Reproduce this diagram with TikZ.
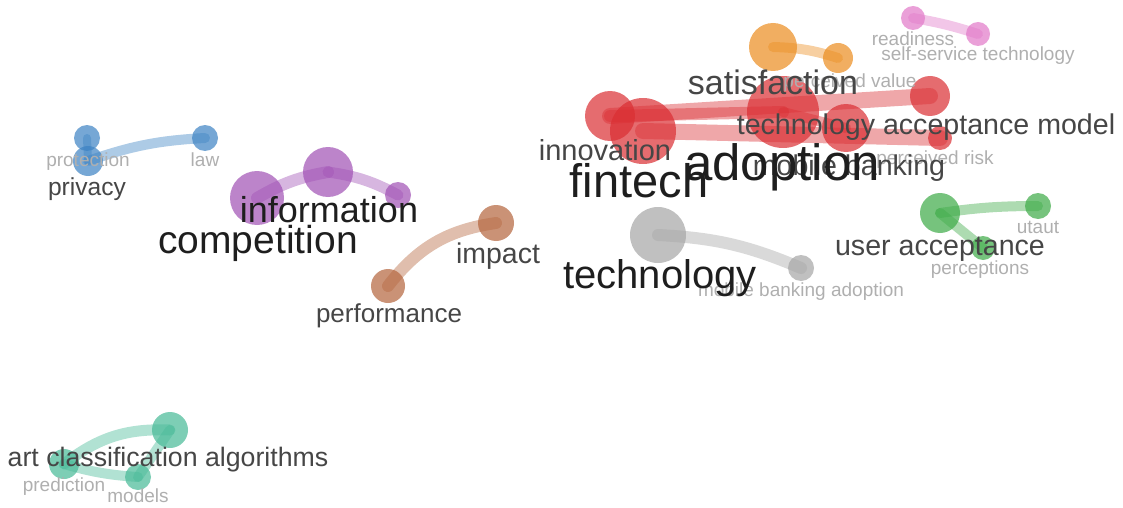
\documentclass[tikz,border=0pt]{standalone}
\usepackage{fontspec}
\setmainfont{Liberation Sans}
\definecolor{vred}{RGB}{218,45,50}
\definecolor{vblue}{RGB}{60,130,195}
\definecolor{vpurple}{RGB}{160,80,180}
\definecolor{vbrown}{RGB}{180,100,60}
\definecolor{vgray}{RGB}{165,165,165}
\definecolor{vgreen}{RGB}{60,170,70}
\definecolor{vorange}{RGB}{235,140,30}
\definecolor{vpink}{RGB}{225,120,200}
\definecolor{vteal}{RGB}{70,185,150}
\definecolor{tdark}{RGB}{30,30,30}
\definecolor{tmid}{RGB}{70,70,70}
\definecolor{tlight}{RGB}{175,175,175}
\tikzset{
  kw/.style={circle,inner sep=0pt,fill opacity=0.7,draw=none},
  link/.style={line width=#1,draw opacity=0.42,line cap=round},
  lab/.style={anchor=base,inner sep=0pt,font=\fontsize{#1}{#1}\selectfont},
  big/.style={lab=#1,text=tdark},
  med/.style={lab=#1,text=tmid},
  lite/.style={lab=#1,text=tlight},
}
\begin{document}
\begin{tikzpicture}[x=1pt,y=-1pt]
\useasboundingbox (0,0) rectangle (1123,508);
% ---- nodes (circles)
% blue
\node[kw,fill=vblue,minimum size=26] (privacytop) at (87,138) {};
\node[kw,fill=vblue,minimum size=30] (protection) at (88,161) {};
\node[kw,fill=vblue,minimum size=26] (law) at (205,138) {};
% purple
\node[kw,fill=vpurple,minimum size=54] (competition) at (257,198) {};
\node[kw,fill=vpurple,minimum size=50] (information) at (328,172) {};
\node[kw,fill=vpurple,minimum size=26] (purple3) at (398,195) {};
% brown
\node[kw,fill=vbrown,minimum size=36] (impact) at (496,223) {};
\node[kw,fill=vbrown,minimum size=34] (performance) at (388,286) {};
% gray
\node[kw,fill=vgray,minimum size=56] (technology) at (658,235) {};
\node[kw,fill=vgray,minimum size=26] (mba) at (801,268) {};
% green
\node[kw,fill=vgreen,minimum size=40] (useracc) at (940,213) {};
\node[kw,fill=vgreen,minimum size=26] (utaut) at (1038,206) {};
\node[kw,fill=vgreen,minimum size=24] (perceptions) at (983,248) {};
% orange
\node[kw,fill=vorange,minimum size=48] (satisfaction) at (773,47) {};
\node[kw,fill=vorange,minimum size=30] (pvalue) at (838,58) {};
% pink
\node[kw,fill=vpink,minimum size=24] (readiness) at (913,18) {};
\node[kw,fill=vpink,minimum size=24] (sst) at (978,34) {};
% red
\node[kw,fill=vred,minimum size=50] (innovation) at (610,116) {};
\node[kw,fill=vred,minimum size=66] (fintech) at (643,131) {};
\node[kw,fill=vred,minimum size=72] (adoption) at (783,112) {};
\node[kw,fill=vred,minimum size=40] (tam) at (930,96) {};
\node[kw,fill=vred,minimum size=48] (mbanking) at (846,128) {};
\node[kw,fill=vred,minimum size=24] (prisk) at (940,138) {};
% teal
\node[kw,fill=vteal,minimum size=30] (artclass) at (64,464) {};
\node[kw,fill=vteal,minimum size=36] (teal2) at (170,430) {};
\node[kw,fill=vteal,minimum size=26] (models) at (138,477) {};
% ---- links
\draw[link=10pt,vblue] (protection.center) to[bend left=8] (law.center);
\draw[link=8pt,vblue] (privacytop.center) -- (protection.center);
\draw[link=12pt,vpurple] (competition.center) to[bend left=10] (information.center);
\draw[link=11pt,vpurple] (information.center) to[bend left=10] (purple3.center);
\draw[link=12pt,vbrown] (performance.center) to[bend left=22] (impact.center);
\draw[link=12pt,vgray] (technology.center) to[bend left=10] (mba.center);
\draw[link=10pt,vgreen] (useracc.center) to[bend left=4] (utaut.center);
\draw[link=10pt,vgreen] (useracc.center) -- (perceptions.center);
\draw[link=10pt,vorange] (satisfaction.center) to[bend left=8] (pvalue.center);
\draw[link=10pt,vpink] (readiness.center) to[bend left=4] (sst.center);
\draw[link=16pt,vred] (innovation.center) -- (tam.center);
\draw[link=16pt,vred] (fintech.center) -- (prisk.center);
\draw[link=12pt,vred] (innovation.center) -- (adoption.center);
\draw[link=10pt,vred] (adoption.center) -- (mbanking.center);
\draw[link=11pt,vteal] (artclass.center) to[bend left=20] (teal2.center);
\draw[link=10pt,vteal] (teal2.center) -- (models.center);
\draw[link=10pt,vteal] (artclass.center) to[bend right=6] (models.center);
% ---- labels
\node[lite=19] (l-readiness) at (913,46) {readiness};
\node[lite=19] (l-sst) at (978,61) {self-service technology};
\node[lite=19] (l-pvalue) at (850,88) {perceived value};
\node[lite=19] (l-prisk) at (935,164) {perceived risk};
\node[lite=19] (l-protection) at (88,166) {protection};
\node[lite=19] (l-law) at (205,166) {law};
\node[lite=19] (l-mba) at (801,296) {mobile banking adoption};
\node[lite=19] (l-utaut) at (1038,233) {utaut};
\node[lite=19] (l-perceptions) at (980,274) {perceptions};
\node[lite=19] (l-prediction) at (64,491) {prediction};
\node[lite=19] (l-models) at (138,502) {models};
\node[med=34] (l-satisfaction) at (773,95) {satisfaction};
\node[med=28.6] (l-tam) at (926,134) {technology acceptance model};
\node[med=29] (l-innovation) at (605,160) {innovation};
\node[med=28.6] (l-mbanking) at (849,175) {mobile banking};
\node[med=28.6] (l-useracc) at (940,255) {user acceptance};
\node[med=24.6] (l-privacy) at (87,195) {privacy};
\node[med=28.5] (l-impact) at (498,263) {impact};
\node[med=26] (l-performance) at (389,322) {performance};
\node[med=26.7] (l-artclass) at (168,466) {art classification algorithms};
\node[big=36] (l-information) at (329,222) {information};
\node[big=39] (l-competition) at (258,253) {competition};
\node[big=40] (l-technology) at (660,288) {technology};
\node[big=47] (l-fintech) at (639,197) {fintech};
\node[big=51] (l-adoption) at (782,180) {adoption};
\end{tikzpicture}
\end{document}
